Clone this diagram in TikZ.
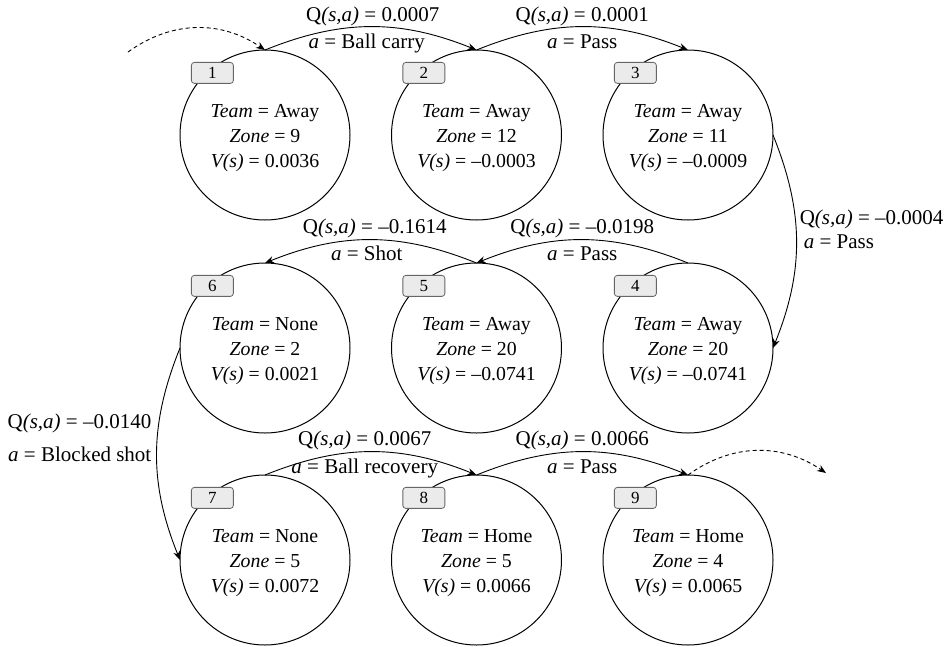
\documentclass[tikz,border=0pt]{standalone}
\usepackage{fontspec}
\setmainfont{Liberation Serif}
\usetikzlibrary{arrows.meta}
\newcommand{\stt}[3]{\rule{0pt}{20pt}\textit{Team} = #1\\ \textit{Zone} = #2\\ \textit{V(s)} = #3}
\begin{document}
\begin{tikzpicture}[x=1pt,y=-1pt,
  state/.style={circle,draw,line width=1pt,minimum size=170pt,inner sep=0pt,outer sep=0pt,
    align=center,font=\fontsize{19.8}{25}\selectfont},
  tag/.style={draw=black!60,fill=black!8,rounded corners=3pt,minimum width=42pt,
    minimum height=21pt,inner sep=0pt,line width=0.8pt,font=\fontsize{17}{17}\selectfont},
  move/.style={line width=0.9pt,-{Stealth[length=9pt,width=7pt]}},
  ghost/.style={move,dash pattern=on 4pt off 3pt},
  qlab/.style={font=\fontsize{21}{25}\selectfont,inner sep=0pt},
]
\useasboundingbox (0,0) rectangle (951,646);

% states
\node[state] (s1) at (265,135)   {\stt{Away}{9}{0.0036}};
\node[state] (s2) at (476.5,135) {\stt{Away}{12}{–0.0003}};
\node[state] (s3) at (688,135)   {\stt{Away}{11}{–0.0009}};
\node[state] (s4) at (688,348)   {\stt{Away}{20}{–0.0741}};
\node[state] (s5) at (476.5,348) {\stt{Away}{20}{–0.0741}};
\node[state] (s6) at (265,348)   {\stt{None}{2}{0.0021}};
\node[state] (s7) at (265,560)   {\stt{None}{5}{0.0072}};
\node[state] (s8) at (476.5,560) {\stt{Home}{5}{0.0066}};
\node[state] (s9) at (688,560)   {\stt{Home}{4}{0.0065}};

% step numbers
\foreach \i in {1,...,9}
  \node[tag] (t\i) at ([shift={(2,3)}]s\i.130) {\i};

% entry and exit of the sequence
\coordinate (in0) at (128,52);
\coordinate (out9) at (826,473);
\draw[ghost] (in0) to[bend left=35] (s1.north);
\draw[ghost] (s9.north) to[bend left=35] (out9);

% transitions
\draw[move] (s1.north) to[bend left=22]
  node[qlab,pos=0.5,anchor=base,yshift=5pt,xshift=2pt] (q12) {Q\textit{(s,a)} = 0.0007}
  node[qlab,pos=0.5,anchor=base,yshift=-22pt,xshift=-4pt] (a12) {\textit{a} = Ball carry} (s2.north);
\draw[move] (s2.north) to[bend left=22]
  node[qlab,pos=0.5,anchor=base,yshift=5pt] (q23) {Q\textit{(s,a)} = 0.0001}
  node[qlab,pos=0.5,anchor=base,yshift=-22pt] (a23) {\textit{a} = Pass} (s3.north);
\draw[move] (s3.east) to[bend left=22]
  node[qlab,pos=0.5,anchor=base west,xshift=3pt,yshift=17pt] (q34) {Q\textit{(s,a)} = –0.0004}
  node[qlab,pos=0.5,anchor=base west,xshift=7pt,yshift=-7pt] (a34) {\textit{a} = Pass} (s4.east);
\draw[move] (s4.north) to[bend right=22]
  node[qlab,pos=0.5,anchor=base,yshift=6pt] (q45) {Q\textit{(s,a)} = –0.0198}
  node[qlab,pos=0.5,anchor=base,yshift=-21pt] (a45) {\textit{a} = Pass} (s5.north);
\draw[move] (s5.north) to[bend right=22]
  node[qlab,pos=0.5,anchor=base,yshift=6pt,xshift=4pt] (q56) {Q\textit{(s,a)} = –0.1614}
  node[qlab,pos=0.5,anchor=base,yshift=-21pt,xshift=-4pt] (a56) {\textit{a} = Shot} (s6.north);
\draw[move] (s6.west) to[bend right=22]
  node[qlab,pos=0.5,anchor=base east,xshift=-5pt,yshift=26pt] (q67) {Q\textit{(s,a)} = –0.0140}
  node[qlab,pos=0.5,anchor=base east,xshift=-5pt,yshift=-7pt] (a67) {\textit{a} = Blocked shot} (s7.west);
\draw[move] (s7.north) to[bend left=22]
  node[qlab,pos=0.5,anchor=base,yshift=6pt,xshift=-6pt] (q78) {Q\textit{(s,a)} = 0.0067}
  node[qlab,pos=0.5,anchor=base,yshift=-22pt,xshift=-6pt] (a78) {\textit{a} = Ball recovery} (s8.north);
\draw[move] (s8.north) to[bend left=22]
  node[qlab,pos=0.5,anchor=base,yshift=6pt] (q89) {Q\textit{(s,a)} = 0.0066}
  node[qlab,pos=0.5,anchor=base,yshift=-22pt] (a89) {\textit{a} = Pass} (s9.north);
\end{tikzpicture}
\end{document}
